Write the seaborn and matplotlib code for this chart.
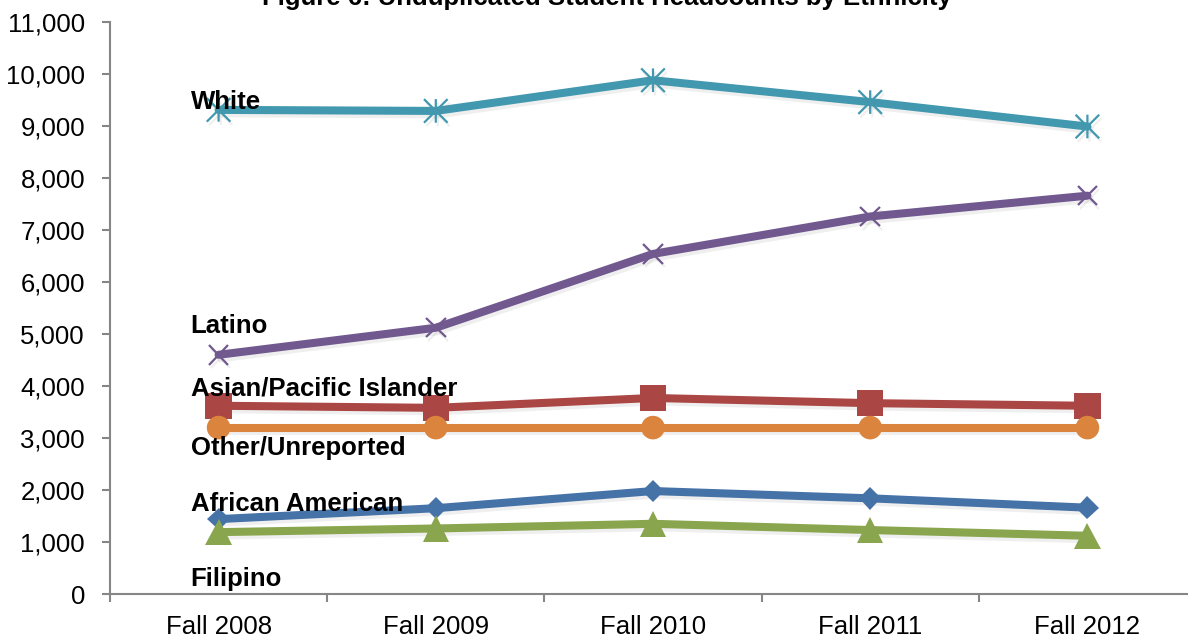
import numpy as np
import pandas as pd
import matplotlib
matplotlib.use("Agg")
import matplotlib.pyplot as plt
import matplotlib.patheffects as pe
from matplotlib.path import Path
from matplotlib.ticker import FixedLocator, StrMethodFormatter
import seaborn as sns

# ---------------- data ----------------
terms = ["Fall 2008", "Fall 2009", "Fall 2010", "Fall 2011", "Fall 2012"]
white = [9310, 9290, 9880, 9460, 8990]
latino = [4600, 5120, 6540, 7260, 7660]
asian_pi = [3620, 3580, 3770, 3670, 3620]
other_unrep = [3200, 3200, 3200, 3200, 3200]
african_am = [1440, 1650, 1980, 1840, 1660]
filipino = [1190, 1260, 1350, 1230, 1120]
series_names = ["White", "Latino", "Asian/Pacific Islander",
                "Other/Unreported", "African American", "Filipino"]
title = "Figure 6: Unduplicated Student Headcounts by Ethnicity"

series_values = [white, latino, asian_pi, other_unrep, african_am, filipino]
df = pd.DataFrame({
    "term": terms * len(series_names),
    "group": np.repeat(series_names, len(terms)),
    "count": np.concatenate(series_values),
})

# ---------------- style ----------------
sns.set_style("white")
plt.rcParams["font.family"] = ["Liberation Sans", "DejaVu Sans"]

asterisk = Path([(-1, -1), (1, 1), (-1, 1), (1, -1), (0, -1), (0, 1)],
                [Path.MOVETO, Path.LINETO, Path.MOVETO, Path.LINETO,
                 Path.MOVETO, Path.LINETO])

styles = {
    "White": dict(color="#4198AF", marker=asterisk, ms=17, mew=1.6, mfc="none"),
    "Latino": dict(color="#71588F", marker="x", ms=14, mew=1.6),
    "Asian/Pacific Islander": dict(color="#AA4643", marker="s", ms=19, mew=0),
    "Other/Unreported": dict(color="#DB843D", marker="o", ms=17, mew=0),
    "African American": dict(color="#4572A7", marker="D", ms=11.5, mew=0),
    "Filipino": dict(color="#89A54E", marker="^", ms=19, mew=0),
}
# label offsets (pixels) relative to the first point
label_offsets = {
    "White": 1, "Latino": 22, "Asian/Pacific Islander": 10,
    "Other/Unreported": -27, "African American": 8, "Filipino": -54,
}

fig = plt.figure(figsize=(11.88, 6.38), dpi=100)
ax = fig.add_axes([110 / 1188, 1 - 594 / 638, 1086 / 1188, 572 / 638])

shadow = [pe.SimpleLineShadow(offset=(1.5, -2.5), shadow_color="gray", alpha=0.12), pe.Normal()]

for name in series_names:
    st = styles[name]
    sub = df[df["group"] == name]
    kw = dict(marker=st["marker"], markersize=st["ms"], markeredgewidth=st["mew"],
              markeredgecolor=st["color"])
    if "mfc" in st:
        kw["markerfacecolor"] = st["mfc"]
    sns.lineplot(data=sub, x="term", y="count", ax=ax, color=st["color"],
                 linewidth=5.8, errorbar=None, sort=False, legend=False,
                 path_effects=shadow, solid_joinstyle="round", solid_capstyle="round",
                 zorder=3, clip_on=False, **kw)
    ax.annotate(name, xy=(terms[0], sub["count"].iloc[0]),
                xytext=(-28, label_offsets[name]), textcoords="offset pixels",
                ha="left", va="baseline", fontsize=18.5, fontweight="bold",
                color="black", zorder=5)

ax.set_xlim(-0.5, 4.5)
ax.set_ylim(0, 11000)
ax.yaxis.set_major_locator(FixedLocator(np.arange(0, 11001, 1000)))
ax.yaxis.set_major_formatter(StrMethodFormatter("{x:,.0f}"))
ax.xaxis.set_minor_locator(FixedLocator(np.arange(-0.5, 4.6, 1)))
ax.set_xlabel("")
ax.set_ylabel("")

for side in ["top", "right"]:
    ax.spines[side].set_visible(False)
for side in ["left", "bottom"]:
    ax.spines[side].set_color("#868686")
    ax.spines[side].set_linewidth(1.5)

ax.tick_params(axis="y", which="major", direction="out", length=6, width=1.5,
               color="#868686", labelsize=18.5, labelcolor="black", pad=12, left=True)
ax.tick_params(axis="x", which="major", length=0, labelsize=18.5,
               labelcolor="black", pad=15)
ax.tick_params(axis="x", which="minor", direction="out", length=6, width=1.5,
               color="#868686", bottom=True)
ax.grid(False)

fig.text(607 / 1188, 1 - 5 / 638, title, ha="center", va="baseline",
         fontsize=18.5, fontweight="bold", color="black")

fig.savefig("out.png", dpi=100)
